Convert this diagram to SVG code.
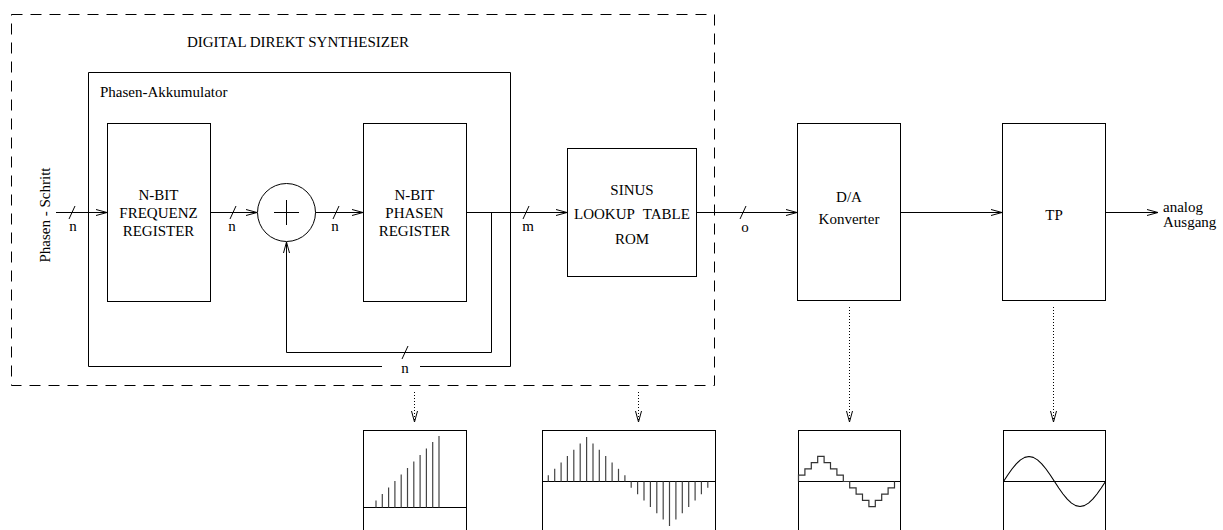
<svg xmlns="http://www.w3.org/2000/svg" width="1223" height="530" viewBox="0 0 1223 530">
  <style>
    text { font-family: "Liberation Serif", "Times New Roman", serif; font-size: 15px; fill: #000; }
    .c { text-anchor: middle; }
    .box { fill: none; stroke: #000; stroke-width: 1; }
    .ln { fill: none; stroke: #000; stroke-width: 1; }
    .arr { fill: none; stroke: #000; stroke-width: 1; marker-end: url(#head); }
    .dot { fill: none; stroke: #000; stroke-width: 1; stroke-dasharray: 1 2; marker-end: url(#head); }
    .dash { fill: none; stroke: #000; stroke-width: 1; stroke-dasharray: 11 8; }
    .bar { stroke: #444; stroke-width: 1.2; }
  </style>
  <defs>
    <marker id="head" markerWidth="12" markerHeight="8" refX="11" refY="3.5" orient="auto" markerUnits="userSpaceOnUse">
      <path d="M0,0.5 L11,3.5 L0,6.5" fill="none" stroke="#000" stroke-width="1"/>
    </marker>
  </defs>
  <rect width="1223" height="530" fill="#fff"/>

  <!-- synthesizer boundary -->
  <g id="dds">
    <rect x="11.5" y="14.5" width="703" height="371" class="dash"/>
    <text x="298" y="47" class="c">DIGITAL DIREKT SYNTHESIZER</text>
  </g>

  <!-- phase accumulator frame, open at the bottom for the bus label -->
  <g id="akkumulator">
    <path d="M382,366.5 H88.5 V72.5 H510.5 V366.5 H420" class="ln"/>
    <text x="100" y="97">Phasen-Akkumulator</text>
  </g>

  <g id="input-label">
    <text transform="translate(50,215) rotate(-90)" class="c">Phasen - Schritt</text>
  </g>

  <g id="freq-reg">
    <rect x="107.5" y="123.5" width="103" height="178" class="box"/>
    <text x="158.5" y="200" class="c">N-BIT</text>
    <text x="158.5" y="218" class="c">FREQUENZ</text>
    <text x="158.5" y="236" class="c">REGISTER</text>
  </g>

  <g id="adder">
    <circle cx="286.5" cy="212.5" r="29" class="box"/>
    <path d="M274,212.5 H299 M286.5,200 V225" class="ln"/>
  </g>

  <g id="phase-reg">
    <rect x="363.5" y="123.5" width="103" height="178" class="box"/>
    <text x="414.5" y="200" class="c">N-BIT</text>
    <text x="414.5" y="218" class="c">PHASEN</text>
    <text x="414.5" y="236" class="c">REGISTER</text>
  </g>

  <g id="sinus-rom">
    <rect x="567.5" y="148.5" width="129" height="128" class="box"/>
    <text x="632" y="195" class="c">SINUS</text>
    <text x="632" y="219" class="c" word-spacing="5">LOOKUP TABLE</text>
    <text x="632" y="244" class="c">ROM</text>
  </g>

  <g id="da-konverter">
    <rect x="797.5" y="123.5" width="103" height="177" class="box"/>
    <text x="849" y="202" class="c">D/A</text>
    <text x="849" y="224" class="c">Konverter</text>
  </g>

  <g id="tiefpass">
    <rect x="1002.5" y="123.5" width="103" height="177" class="box"/>
    <text x="1054" y="220" class="c">TP</text>
  </g>

  <g id="output-label">
    <text x="1163" y="212">analog</text>
    <text x="1163" y="227">Ausgang</text>
  </g>

  <!-- signal connectors with bus-width marks -->
  <g id="connectors">
    <path d="M56,212.5 H107" class="arr"/>
    <path d="M210.5,212.5 H257" class="arr"/>
    <path d="M315.5,212.5 H363" class="arr"/>
    <path d="M466.5,212.5 H567" class="arr"/>
    <path d="M696.5,212.5 H797" class="arr"/>
    <path d="M900.5,212.5 H1002" class="arr"/>
    <path d="M1105.5,212.5 H1158" class="arr"/>
    <!-- feedback from phase register to adder -->
    <path d="M491.5,212.5 V352.5 H286.5 V242" class="arr"/>

    <g class="ln">
      <path d="M69,219 L75,206"/>
      <path d="M230,219 L236,206"/>
      <path d="M333,219 L339,206"/>
      <path d="M523,219 L529,206"/>
      <path d="M740,219 L746,206"/>
      <path d="M402,359 L408,346"/>
    </g>
    <text x="73" y="231" class="c">n</text>
    <text x="232" y="231" class="c">n</text>
    <text x="335" y="231" class="c">n</text>
    <text x="528" y="231" class="c">m</text>
    <text x="745" y="232" class="c">o</text>
    <text x="405" y="373" class="c">n</text>

    <!-- probes to the waveform views -->
    <path d="M414.5,392 V422" class="dot"/>
    <path d="M638.5,392 V422" class="dot"/>
    <path d="M849.5,307 V422" class="dot"/>
    <path d="M1053.5,307 V422" class="dot"/>
  </g>

  <!-- waveform: phase accumulator ramp -->
  <g id="wave-phase">
    <rect x="363.5" y="430.5" width="103" height="110" class="box"/>
    <path d="M363.5,507.5 H466.5" class="ln"/>
    <g class="bar">
      <line x1="376" y1="507.5" x2="376" y2="500.5"/>
      <line x1="382.3" y1="507.5" x2="382.3" y2="494"/>
      <line x1="388.6" y1="507.5" x2="388.6" y2="487.5"/>
      <line x1="394.9" y1="507.5" x2="394.9" y2="481"/>
      <line x1="401.2" y1="507.5" x2="401.2" y2="474.5"/>
      <line x1="407.5" y1="507.5" x2="407.5" y2="468"/>
      <line x1="413.8" y1="507.5" x2="413.8" y2="461.5"/>
      <line x1="420.1" y1="507.5" x2="420.1" y2="455"/>
      <line x1="426.4" y1="507.5" x2="426.4" y2="448.5"/>
      <line x1="432.7" y1="507.5" x2="432.7" y2="442"/>
      <line x1="439" y1="507.5" x2="439" y2="436"/>
    </g>
  </g>

  <!-- waveform: sampled sine from ROM -->
  <g id="wave-rom">
    <rect x="542.5" y="430.5" width="173" height="110" class="box"/>
    <path d="M542.5,481.5 H715.5" class="ln"/>
    <g class="bar">
      <line x1="548.3" y1="481.5" x2="548.3" y2="475.2"/>
      <line x1="554.7" y1="481.5" x2="554.7" y2="468.8"/>
      <line x1="561.1" y1="481.5" x2="561.1" y2="462.5"/>
      <line x1="567.4" y1="481.5" x2="567.4" y2="456.1"/>
      <line x1="573.8" y1="481.5" x2="573.8" y2="449.8"/>
      <line x1="580.2" y1="481.5" x2="580.2" y2="443.4"/>
      <line x1="586.6" y1="481.5" x2="586.6" y2="437"/>
      <line x1="593.0" y1="481.5" x2="593.0" y2="443.4"/>
      <line x1="599.3" y1="481.5" x2="599.3" y2="449.8"/>
      <line x1="605.7" y1="481.5" x2="605.7" y2="456.1"/>
      <line x1="612.1" y1="481.5" x2="612.1" y2="462.5"/>
      <line x1="618.5" y1="481.5" x2="618.5" y2="468.8"/>
      <line x1="624.9" y1="481.5" x2="624.9" y2="475.2"/>
      <line x1="631.2" y1="481.5" x2="631.2" y2="487.8"/>
      <line x1="637.6" y1="481.5" x2="637.6" y2="494.2"/>
      <line x1="644.0" y1="481.5" x2="644.0" y2="500.5"/>
      <line x1="650.4" y1="481.5" x2="650.4" y2="506.9"/>
      <line x1="656.8" y1="481.5" x2="656.8" y2="513.2"/>
      <line x1="663.2" y1="481.5" x2="663.2" y2="519.6"/>
      <line x1="669.5" y1="481.5" x2="669.5" y2="526"/>
      <line x1="675.9" y1="481.5" x2="675.9" y2="519.6"/>
      <line x1="682.3" y1="481.5" x2="682.3" y2="513.2"/>
      <line x1="688.7" y1="481.5" x2="688.7" y2="506.9"/>
      <line x1="695.1" y1="481.5" x2="695.1" y2="500.5"/>
      <line x1="701.4" y1="481.5" x2="701.4" y2="494.2"/>
      <line x1="707.8" y1="481.5" x2="707.8" y2="487.8"/>
    </g>
  </g>

  <!-- waveform: staircase output of the converter -->
  <g id="wave-da">
    <rect x="798.5" y="430.5" width="102" height="110" class="box"/>
    <path d="M798.5,481.5 H900.5" class="ln"/>
    <path d="M798.5,481.5 V475.2 H804.9 V468.9 H811.3 V462.6 H817.7 V456.3 H824.1 V462.6 H830.5 V468.9 H836.9 V475.2 H843.3 V481.5 H849.7 V487.8 H856.1 V494.1 H862.5 V500.4 H868.9 V506.7 H875.3 V500.4 H881.7 V494.1 H888.1 V487.8 H894.5 V481.5" fill="none" stroke="#333" stroke-width="1.2"/>
  </g>

  <!-- waveform: smoothed sine after the low-pass -->
  <g id="wave-tp">
    <rect x="1003.5" y="430.5" width="102" height="110" class="box"/>
    <path d="M1003.5,481.5 H1105.5" class="ln"/>
    <polyline points="1003.5,481.5 1007.75,475 1012,469 1016.25,463.8 1020.5,459.9 1024.75,457.4 1029,456.5 1033.25,457.4 1037.5,459.9 1041.75,463.8 1046,469 1050.25,475 1054.5,481.5 1058.75,488 1063,494 1067.25,499.2 1071.5,503.1 1075.75,505.6 1080,506.5 1084.25,505.6 1088.5,503.1 1092.75,499.2 1097,494 1101.25,488 1105.5,481.5" fill="none" stroke="#000" stroke-width="1.1" stroke-linejoin="round"/>
  </g>
</svg>
